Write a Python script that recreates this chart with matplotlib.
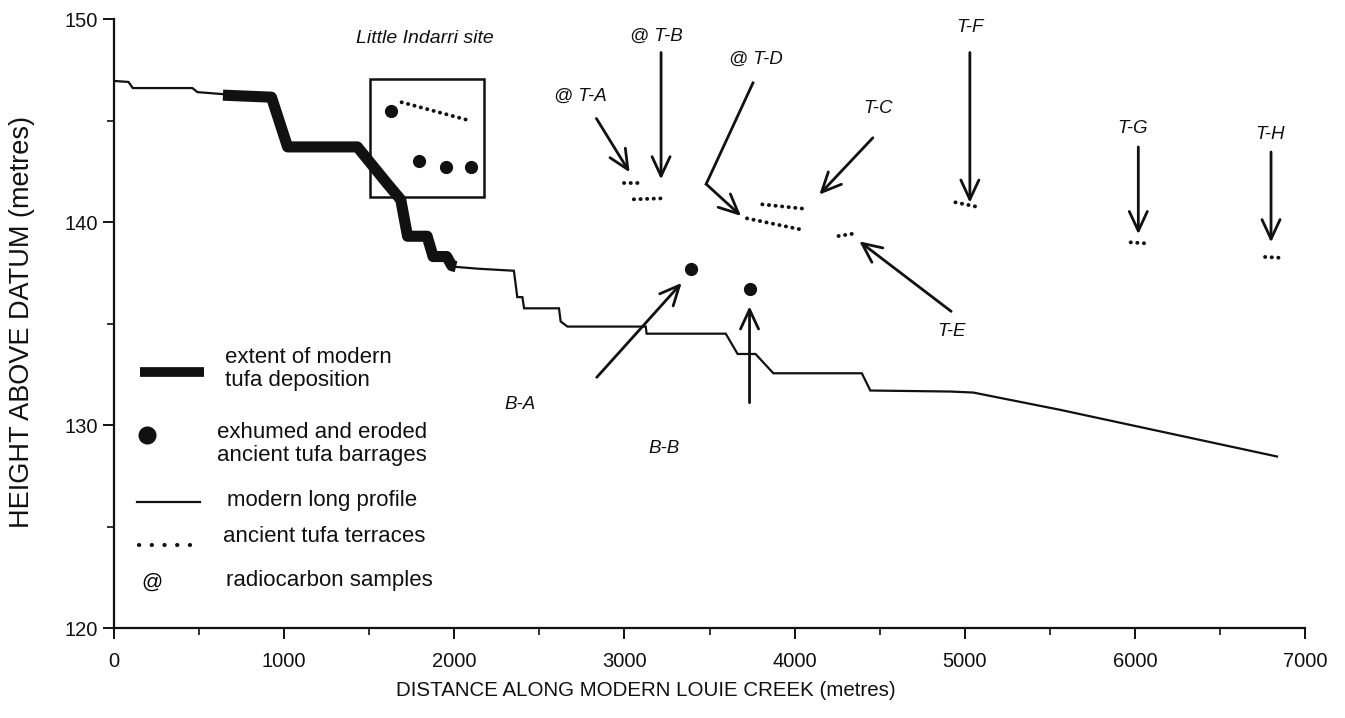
import numpy as np
import matplotlib.pyplot as plt
from matplotlib.patches import Rectangle

plt.rcParams['font.family'] = ['Liberation Sans', 'DejaVu Sans']

###### modern long profile (distance m, height m) ######
profile_x = [0, 85, 110, 460, 490, 640, 925, 1020, 1430, 1605, 1685, 1725, 1840,
             1875, 1955, 1995, 2140, 2350, 2370, 2400, 2410, 2615, 2625, 2665,
             3125, 3130, 3595, 3665, 3770, 3875, 4395, 4445, 4915, 5050, 5560, 6835]
profile_y = [146.95, 146.9, 146.6, 146.6, 146.4, 146.3, 146.2, 143.7, 143.7, 141.9,
             141.1, 139.3, 139.3, 138.3, 138.3, 137.8, 137.7, 137.6, 136.3, 136.3,
             135.75, 135.75, 135.1, 134.85, 134.85, 134.5, 134.5, 133.5, 133.5,
             132.55, 132.55, 131.7, 131.65, 131.6, 130.75, 128.45]

###### extent of modern tufa deposition ######
tufa_x = [640, 925, 1020, 1430, 1605, 1685, 1725, 1840, 1875, 1955, 1985, 2010]
tufa_y = [146.25, 146.15, 143.7, 143.7, 141.9, 141.1, 139.3, 139.3, 138.3, 138.3,
          137.85, 137.8]

###### exhumed / eroded barrages ######
barrage_x = [1625, 1790, 1950, 2100, 3392, 3740]
barrage_y = [145.45, 143.0, 142.7, 142.7, 137.7, 136.7]

###### ancient tufa terraces (start x, start y, end x, end y) ######
terrace_names = ['LI', 'T-A', 'T-B', 'T-D', 'T-C', 'T-E', 'T-F', 'T-G', 'T-H']
terrace_x0 = [1690, 2995, 3055, 3720, 3810, 4258, 4945, 5975, 6765]
terrace_y0 = [145.9, 141.9, 141.12, 140.18, 140.87, 139.31, 140.97, 139.0, 138.28]
terrace_x1 = [2080, 3095, 3240, 4055, 4072, 4355, 5090, 6060, 6850]
terrace_y1 = [145.02, 141.9, 141.17, 139.6, 140.64, 139.44, 140.72, 138.95, 138.24]

###### annotations: label, text pos, arrow tail, arrow head ######
ann_labels = ['@ T-A', '@ T-B', 'T-C', 'T-E', 'T-F', 'T-G', 'T-H', 'B-A', 'B-B']
ann_text_x = [2740, 3190, 4490, 4925, 5030, 5985, 6795, 2385, 3235]
ann_text_y = [146.2, 149.15, 145.6, 134.6, 149.6, 144.6, 144.3, 131.0, 128.85]
ann_tail_x = [2835, 3215, 4460, 4920, 5030, 6020, 6800, 2837, 3735]
ann_tail_y = [145.1, 148.35, 144.15, 135.6, 148.35, 143.7, 143.45, 132.35, 131.1]
ann_head_x = [3030, 3215, 4145, 4380, 5030, 6020, 6800, 3336, 3735]
ann_head_y = [142.45, 142.1, 141.35, 139.05, 140.95, 139.4, 139.0, 137.0, 135.85]

# T-D has a bent arrow
td_x = [3755, 3480, 3685]
td_y = [146.85, 141.87, 140.3]

legend_labels = ['extent of modern\ntufa deposition',
                 'exhumed and eroded\nancient tufa barrages',
                 'modern long profile', 'ancient tufa terraces', 'radiocarbon samples']

ink = '#111111'
fig = plt.figure(figsize=(13.45, 7.18), dpi=100)
ax = fig.add_axes([0.0848, 0.1253, 0.8855, 0.8482])

ax.plot(profile_x, profile_y, color=ink, lw=1.6, solid_joinstyle='miter')
ax.plot(tufa_x, tufa_y, color=ink, lw=8, solid_capstyle='butt',
        solid_joinstyle='round')
ax.plot(barrage_x, barrage_y, 'o', color=ink, ms=8.5, ls='none')

for i in range(len(terrace_names)):
    ax.plot([terrace_x0[i], terrace_x1[i]], [terrace_y0[i], terrace_y1[i]],
            color=ink, lw=2.8, ls=(0, (0.05, 1.65)), dash_capstyle='round')

# Little Indarri box
ax.add_patch(Rectangle((1505, 141.22), 670, 5.82, fill=False, lw=1.8, edgecolor=ink))
ax.text(1825, 149.06, 'Little Indarri site', style='italic', fontsize=14,
        ha='center', va='center', color=ink)

aprops = dict(arrowstyle='->,head_length=1.4,head_width=0.65', lw=2,
              color=ink, shrinkA=0, shrinkB=0)
for i in range(len(ann_labels)):
    ax.annotate('', xy=(ann_head_x[i], ann_head_y[i]),
                xytext=(ann_tail_x[i], ann_tail_y[i]), arrowprops=aprops)
    ax.text(ann_text_x[i], ann_text_y[i], ann_labels[i], style='italic',
            fontsize=13.5, ha='center', va='center', color=ink)

ax.plot(td_x[:2], td_y[:2], color=ink, lw=2)
ax.annotate('', xy=(td_x[2], td_y[2]), xytext=(td_x[1], td_y[1]), arrowprops=aprops)
ax.text(3775, 148.0, '@ T-D', style='italic', fontsize=13.5, ha='center',
        va='center', color=ink)

###### legend (drawn by hand) ######
tr = ax.transAxes
ax.plot([0.0218, 0.0755], [0.420, 0.420], transform=tr, color=ink, lw=7,
        solid_capstyle='butt')
ax.plot([0.0277], [0.317], 'o', transform=tr, color=ink, ms=12)
ax.plot([0.0193, 0.0722], [0.207, 0.207], transform=tr, color=ink, lw=1.6)
ax.plot([0.0210, 0.0650], [0.1363, 0.1363], transform=tr, color=ink, lw=3.0,
        ls=(0, (0.05, 3.0)), dash_capstyle='round')
ax.text(0.032, 0.0755, '@', transform=tr, fontsize=15, ha='center', va='center')
leg_tx = [0.0932, 0.0865, 0.0949, 0.0915, 0.094]
leg_ty = [0.425, 0.302, 0.210, 0.150, 0.0775]
for lab, lx, ly in zip(legend_labels, leg_tx, leg_ty):
    ax.text(lx, ly, lab, transform=tr, fontsize=16, ha='left', va='center',
            linespacing=1.15, color=ink)

ax.set_xlim(0, 7000)
ax.set_ylim(120, 150)
ax.set_xticks(np.arange(0, 7001, 1000))
ax.set_xticks(np.arange(0, 7001, 500), minor=True)
ax.set_yticks([120, 130, 140, 150])
ax.set_yticks([125, 135, 145], minor=True)
for s in ['top', 'right']:
    ax.spines[s].set_visible(False)
for s in ['left', 'bottom']:
    ax.spines[s].set_linewidth(1.6)
    ax.spines[s].set_color(ink)
ax.tick_params(axis='both', which='major', length=8, width=1.4, labelsize=14.5,
               colors=ink)
ax.tick_params(axis='both', which='minor', length=5, width=1.2, colors=ink)
ax.tick_params(axis='x', pad=9)

fig.text(646 / 1345, 1 - 691 / 718, 'DISTANCE ALONG MODERN LOUIE CREEK (metres)',
         fontsize=14.8, ha='center', va='center', color=ink)
fig.text(22 / 1345, 1 - 322 / 718, 'HEIGHT ABOVE DATUM (metres)', fontsize=19.5,
         rotation=90, ha='center', va='center', color=ink)

fig.savefig('out.png', dpi=100)
